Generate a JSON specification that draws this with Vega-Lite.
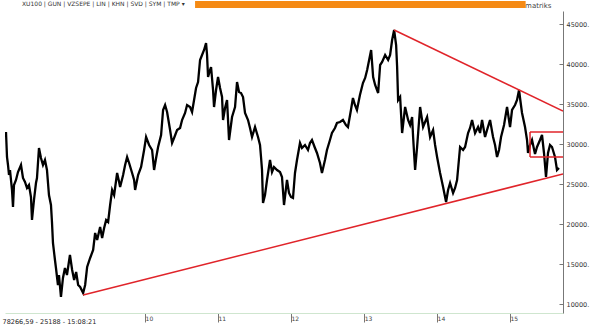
{
  "$schema": "https://vega.github.io/schema/vega-lite/v6.json",
  "width": 558,
  "height": 302,
  "autosize": {"type": "none"},
  "padding": {"left": 5, "top": 11, "right": 37, "bottom": 20},
  "background": "white",
  "config": {"view": {"stroke": null}, "font": "DejaVu Sans"},
  "title": {"text": "XU100   |  GUN  | VZSEPE |  LIN  |  KHN  |  SVD  |  SYM  |  TMP ▾", "anchor": "start", "dx": 20, "dy": 9, "fontSize": 6, "fontWeight": "normal", "color": "#333333", "offset": 3},
  "datasets": {
    "xu100": [
      {"d":"2008-036","v":31500},{"d":"2008-041","v":28375},{"d":"2008-046","v":27375},{"d":"2008-051","v":26125},{"d":"2008-056","v":26750},{"d":"2008-066","v":24250},{"d":"2008-071","v":22125},{"d":"2008-076","v":24875},{"d":"2008-086","v":25500},{"d":"2008-096","v":26500},{"d":"2008-111","v":27375},{"d":"2008-121","v":25750},{"d":"2008-131","v":25250},{"d":"2008-141","v":24500},{"d":"2008-151","v":24875},{"d":"2008-161","v":23375},{"d":"2008-166","v":20500},{"d":"2008-176","v":23000},{"d":"2008-186","v":25125},{"d":"2008-191","v":25750},{"d":"2008-201","v":29500},{"d":"2008-211","v":28250},{"d":"2008-221","v":27375},{"d":"2008-231","v":28000},{"d":"2008-241","v":26750},{"d":"2008-251","v":23625},{"d":"2008-261","v":22375},{"d":"2008-266","v":20250},{"d":"2008-271","v":17625},{"d":"2008-281","v":15500},{"d":"2008-286","v":14500},{"d":"2008-296","v":12375},{"d":"2008-301","v":13625},{"d":"2008-311","v":10875},{"d":"2008-321","v":13250},{"d":"2008-331","v":14500},{"d":"2008-341","v":13625},{"d":"2008-356","v":16125},
      {"d":"2009-001","v":14250},{"d":"2009-011","v":13000},{"d":"2009-021","v":14000},{"d":"2009-031","v":12375},{"d":"2009-041","v":12125},{"d":"2009-056","v":11375},{"d":"2009-066","v":12375},{"d":"2009-076","v":14625},{"d":"2009-091","v":15750},{"d":"2009-106","v":16750},{"d":"2009-116","v":18875},{"d":"2009-126","v":18000},{"d":"2009-141","v":19625},{"d":"2009-151","v":18250},{"d":"2009-161","v":19500},{"d":"2009-171","v":20500},{"d":"2009-181","v":20250},{"d":"2009-191","v":22375},{"d":"2009-201","v":24250},{"d":"2009-211","v":23625},{"d":"2009-226","v":26375},{"d":"2009-236","v":25250},{"d":"2009-241","v":24625},{"d":"2009-256","v":26125},{"d":"2009-266","v":27375},{"d":"2009-276","v":28375},{"d":"2009-286","v":27625},{"d":"2009-301","v":26375},{"d":"2009-311","v":25500},{"d":"2009-316","v":24250},{"d":"2009-331","v":26125},{"d":"2009-346","v":27125},{"d":"2009-361","v":29250},
      {"d":"2010-006","v":30875},{"d":"2010-021","v":29875},{"d":"2010-036","v":29250},{"d":"2010-046","v":26750},{"d":"2010-056","v":28250},{"d":"2010-066","v":29625},{"d":"2010-081","v":31125},{"d":"2010-091","v":34250},{"d":"2010-101","v":34875},{"d":"2010-111","v":34000},{"d":"2010-126","v":31750},{"d":"2010-136","v":30125},{"d":"2010-146","v":30750},{"d":"2010-161","v":31750},{"d":"2010-176","v":32000},{"d":"2010-186","v":33000},{"d":"2010-201","v":33875},{"d":"2010-211","v":34875},{"d":"2010-226","v":34625},{"d":"2010-236","v":34000},{"d":"2010-246","v":35500},{"d":"2010-256","v":37000},{"d":"2010-266","v":37750},{"d":"2010-276","v":40500},{"d":"2010-286","v":41125},{"d":"2010-296","v":41750},{"d":"2010-306","v":42625},{"d":"2010-311","v":41125},{"d":"2010-316","v":38375},{"d":"2010-326","v":39250},{"d":"2010-331","v":39625},{"d":"2010-341","v":36750},{"d":"2010-346","v":34625},{"d":"2010-356","v":36750},
      {"d":"2011-001","v":38375},{"d":"2011-011","v":37000},{"d":"2011-021","v":35875},{"d":"2011-026","v":33000},{"d":"2011-036","v":34500},{"d":"2011-046","v":35500},{"d":"2011-056","v":30500},{"d":"2011-071","v":33375},{"d":"2011-086","v":34625},{"d":"2011-096","v":37750},{"d":"2011-106","v":36500},{"d":"2011-116","v":36375},{"d":"2011-126","v":35875},{"d":"2011-136","v":33875},{"d":"2011-151","v":33000},{"d":"2011-161","v":32000},{"d":"2011-171","v":30875},{"d":"2011-186","v":32125},{"d":"2011-201","v":30875},{"d":"2011-211","v":29875},{"d":"2011-216","v":28375},{"d":"2011-221","v":26750},{"d":"2011-226","v":22625},{"d":"2011-236","v":23625},{"d":"2011-246","v":25500},{"d":"2011-261","v":28000},{"d":"2011-271","v":26500},{"d":"2011-281","v":27125},{"d":"2011-296","v":26750},{"d":"2011-311","v":26500},{"d":"2011-321","v":25875},{"d":"2011-331","v":22375},{"d":"2011-346","v":25500},{"d":"2011-356","v":23875},
      {"d":"2012-001","v":23375},{"d":"2012-011","v":23250},{"d":"2012-021","v":26375},{"d":"2012-031","v":28000},{"d":"2012-046","v":30125},{"d":"2012-056","v":29500},{"d":"2012-071","v":29875},{"d":"2012-086","v":29250},{"d":"2012-096","v":30125},{"d":"2012-106","v":30500},{"d":"2012-121","v":29500},{"d":"2012-131","v":28875},{"d":"2012-146","v":27625},{"d":"2012-156","v":26375},{"d":"2012-171","v":28000},{"d":"2012-181","v":29250},{"d":"2012-196","v":30500},{"d":"2012-206","v":31375},{"d":"2012-221","v":32000},{"d":"2012-231","v":32625},{"d":"2012-246","v":32750},{"d":"2012-261","v":33000},{"d":"2012-276","v":32375},{"d":"2012-286","v":32125},{"d":"2012-301","v":34250},{"d":"2012-311","v":35750},{"d":"2012-321","v":34875},{"d":"2012-331","v":34250},{"d":"2012-346","v":36125},{"d":"2012-361","v":37625},
      {"d":"2013-006","v":38250},{"d":"2013-016","v":39250},{"d":"2013-026","v":40500},{"d":"2013-036","v":41750},{"d":"2013-046","v":38375},{"d":"2013-056","v":37375},{"d":"2013-071","v":36375},{"d":"2013-081","v":39875},{"d":"2013-091","v":40250},{"d":"2013-106","v":41125},{"d":"2013-121","v":40500},{"d":"2013-131","v":41125},{"d":"2013-141","v":43000},{"d":"2013-151","v":44250},{"d":"2013-161","v":42375},{"d":"2013-166","v":39625},{"d":"2013-171","v":35500},{"d":"2013-181","v":35875},{"d":"2013-191","v":31375},{"d":"2013-206","v":34625},{"d":"2013-221","v":33000},{"d":"2013-231","v":32375},{"d":"2013-241","v":33375},{"d":"2013-246","v":30875},{"d":"2013-256","v":26750},{"d":"2013-266","v":29625},{"d":"2013-281","v":34625},{"d":"2013-296","v":32125},{"d":"2013-306","v":32750},{"d":"2013-316","v":33375},{"d":"2013-331","v":30875},{"d":"2013-346","v":31750},{"d":"2013-356","v":29875},
      {"d":"2014-001","v":28375},{"d":"2014-016","v":26375},{"d":"2014-031","v":24625},{"d":"2014-046","v":22750},{"d":"2014-056","v":24250},{"d":"2014-066","v":25125},{"d":"2014-081","v":23875},{"d":"2014-091","v":24500},{"d":"2014-101","v":25500},{"d":"2014-116","v":29625},{"d":"2014-131","v":29250},{"d":"2014-141","v":29625},{"d":"2014-156","v":31375},{"d":"2014-166","v":32000},{"d":"2014-176","v":33000},{"d":"2014-191","v":31375},{"d":"2014-206","v":32125},{"d":"2014-216","v":31375},{"d":"2014-226","v":33000},{"d":"2014-241","v":30875},{"d":"2014-251","v":31750},{"d":"2014-266","v":33000},{"d":"2014-281","v":30875},{"d":"2014-291","v":29875},{"d":"2014-301","v":28375},{"d":"2014-311","v":29250},{"d":"2014-321","v":30875},{"d":"2014-336","v":32375},{"d":"2014-351","v":34625},
      {"d":"2015-001","v":32125},{"d":"2015-011","v":34250},{"d":"2015-026","v":34875},{"d":"2015-036","v":35500},{"d":"2015-046","v":36750},{"d":"2015-051","v":35750},{"d":"2015-061","v":33875},{"d":"2015-076","v":32125},{"d":"2015-086","v":30500},{"d":"2015-091","v":28875},{"d":"2015-101","v":29875},{"d":"2015-111","v":30500},{"d":"2015-126","v":28750},{"d":"2015-136","v":29625},{"d":"2015-151","v":30500},{"d":"2015-161","v":31125},{"d":"2015-171","v":28875},{"d":"2015-181","v":25875},{"d":"2015-191","v":28875},{"d":"2015-201","v":29875},{"d":"2015-211","v":29625},{"d":"2015-226","v":28375},{"d":"2015-236","v":26750},{"d":"2015-246","v":27000}
    ],
    "lines": [
      {"seg":"support","d":"2009-056","v":11125},{"seg":"support","d":"2015-266","v":26250},
      {"seg":"resistance","d":"2013-151","v":44250},{"seg":"resistance","d":"2015-266","v":34125},
      {"seg":"box_top","d":"2015-101","v":31500},{"seg":"box_top","d":"2015-266","v":31500},
      {"seg":"box_bottom","d":"2015-101","v":28375},{"seg":"box_bottom","d":"2015-266","v":28375},
      {"seg":"box_left","d":"2015-101","v":28375},{"seg":"box_left","d":"2015-101","v":31500}
    ]
  },
  "layer": [
    {
      "data": {"values": [{}]},
      "mark": {"type": "rect", "color": "#f58a14", "clip": false},
      "encoding": {
        "x": {"datum": {"year": 2010, "month": 9, "date": 8, "utc": true}, "type": "temporal"},
        "x2": {"datum": {"year": 2015, "month": 3, "date": 20, "utc": true}},
        "y": {"datum": 47875, "type": "quantitative"},
        "y2": {"datum": 47000}
      }
    },
    {
      "data": {"name": "xu100", "format": {"parse": {"d": "utc:'%Y-%j'"}}},
      "mark": {"type": "line", "color": "#000000", "strokeWidth": 2.3, "clip": true},
      "encoding": {
        "x": {
          "field": "d", "type": "temporal",
          "scale": {"type": "utc", "domain": [{"year": 2008, "month": 1, "date": 31, "utc": true}, {"year": 2015, "month": 9, "date": 23, "utc": true}]},
          "axis": {
            "orient": "bottom",
            "values": [{"year": 2010, "month": 1, "date": 1, "utc": true}, {"year": 2011, "month": 1, "date": 1, "utc": true}, {"year": 2012, "month": 1, "date": 1, "utc": true}, {"year": 2013, "month": 1, "date": 1, "utc": true}, {"year": 2014, "month": 1, "date": 1, "utc": true}, {"year": 2015, "month": 1, "date": 1, "utc": true}],
            "labelExpr": "utcFormat(datum.value, '%y')",
            "grid": false,
            "domain": true, "domainColor": "#cfe6cf", "domainWidth": 1,
            "ticks": true, "tickSize": 9, "tickColor": "#777777",
            "labelAlign": "left", "labelBaseline": "top", "labelPadding": -7, "labelDx": 2,
            "labelFontSize": 6, "labelColor": "#444444",
            "title": "78266,59 - 25188 - 15:08:21", "titleAnchor": "start", "titleAlign": "left",
            "titleX": -3, "titleY": 11, "titleBaseline": "bottom",
            "titleFontSize": 6.5, "titleFontWeight": "normal", "titleColor": "#222222"
          }
        },
        "y": {
          "field": "v", "type": "quantitative",
          "scale": {"domain": [8875, 46625], "nice": false, "zero": false},
          "axis": {
            "orient": "right",
            "values": [10000, 12500, 15000, 17500, 20000, 22500, 25000, 27500, 30000, 32500, 35000, 37500, 40000, 42500, 45000],
            "labelExpr": "datum.value % 5000 == 0 ? format(datum.value, 'd') + '.' : ''",
            "grid": false,
            "domain": true, "domainColor": "#777777",
            "tickSize": -4, "tickColor": "#777777",
            "labelPadding": 7, "labelFontSize": 6.5, "labelColor": "#333333", "labelBaseline": "middle",
            "title": "matriks", "titleAngle": 0, "titleAlign": "right", "titleBaseline": "middle",
            "titleX": -12, "titleY": -6, "titleFontSize": 7, "titleFontWeight": "normal", "titleColor": "#444444"
          }
        }
      }
    },
    {
      "data": {"name": "lines", "format": {"parse": {"d": "utc:'%Y-%j'"}}},
      "mark": {"type": "line", "color": "#e0242a", "strokeWidth": 1.5, "clip": true},
      "encoding": {
        "x": {"field": "d", "type": "temporal"},
        "y": {"field": "v", "type": "quantitative"},
        "detail": {"field": "seg"}
      }
    }
  ]
}
